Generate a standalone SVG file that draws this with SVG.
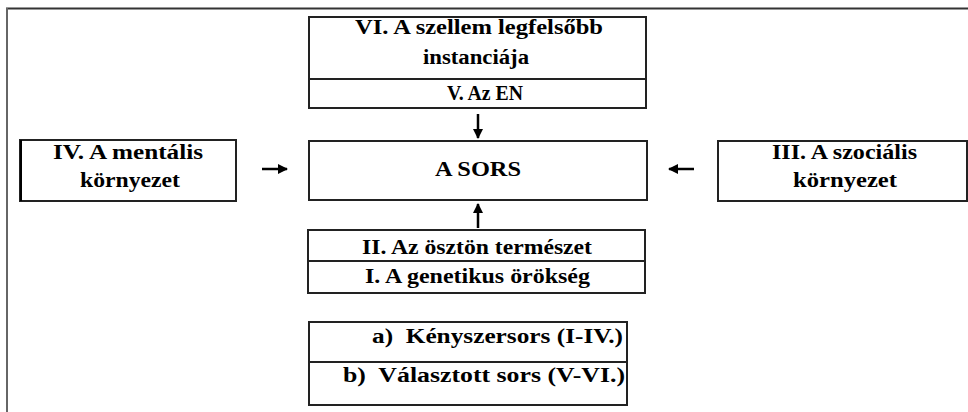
<svg xmlns="http://www.w3.org/2000/svg" width="968" height="412" viewBox="0 0 968 412">
<style>
.box{fill:#fff;stroke:#222;stroke-width:2}
.div{stroke:#222;stroke-width:2}
.t{font-family:"Liberation Serif","Times New Roman",serif;font-weight:bold;font-size:20px;fill:#000}
.c{stroke:#000;stroke-width:2.5;fill:none}
</style>
<defs>
<marker id="ah" viewBox="0 0 10 10" refX="9" refY="5" markerWidth="4" markerHeight="4" orient="auto" markerUnits="strokeWidth">
<path d="M0,0 L10,5 L0,10 z" fill="#000"/>
</marker>
</defs>
<rect width="968" height="412" fill="#fff"/>
<g id="frame">
<line x1="6" y1="8.5" x2="968" y2="8.5" stroke="#333" stroke-width="2"/>
<line x1="7" y1="8" x2="7" y2="412" stroke="#666" stroke-width="2"/>
</g>
<g id="top">
<rect class="box" x="309" y="17" width="337" height="91"/>
<line class="div" x1="309" y1="79" x2="646" y2="79"/>
<text class="t" x="355" y="34" textLength="248" lengthAdjust="spacingAndGlyphs">VI. A szellem legfelsőbb</text>
<text class="t" x="423" y="64" textLength="106" lengthAdjust="spacingAndGlyphs">instanciája</text>
<text class="t" x="447" y="100" textLength="76" lengthAdjust="spacingAndGlyphs">V. Az EN</text>
</g>
<g id="sors">
<rect class="box" x="309" y="141" width="338" height="59"/>
<text class="t" x="435" y="176" textLength="86" lengthAdjust="spacingAndGlyphs">A SORS</text>
</g>
<g id="mental">
<rect class="box" x="20" y="140" width="216" height="61"/>
<line x1="21" y1="140" x2="21" y2="201" stroke="#000" stroke-width="2"/>
<text class="t" x="53" y="159" textLength="150" lengthAdjust="spacingAndGlyphs">IV. A mentális</text>
<text class="t" x="80" y="187" textLength="100" lengthAdjust="spacingAndGlyphs">környezet</text>
</g>
<g id="social">
<rect class="box" x="718" y="141" width="249" height="60"/>
<text class="t" x="772" y="159" textLength="145" lengthAdjust="spacingAndGlyphs">III. A szociális</text>
<text class="t" x="793" y="187" textLength="104" lengthAdjust="spacingAndGlyphs">környezet</text>
</g>
<g id="bottom">
<rect class="box" x="308" y="230" width="337" height="63"/>
<line class="div" x1="308" y1="261" x2="645" y2="261"/>
<text class="t" x="362" y="254" textLength="230" lengthAdjust="spacingAndGlyphs">II. Az ösztön természet</text>
<text class="t" x="365" y="283" textLength="225" lengthAdjust="spacingAndGlyphs">I. A genetikus örökség</text>
</g>
<g id="legend">
<rect class="box" x="309" y="322" width="318" height="83"/>
<line class="div" x1="309" y1="362" x2="627" y2="362"/>
<text class="t" x="372" y="343" textLength="251" lengthAdjust="spacingAndGlyphs" xml:space="preserve">a)  Kényszersors (I-IV.)</text>
<text class="t" x="343" y="382" textLength="282" lengthAdjust="spacingAndGlyphs" xml:space="preserve">b)  Választott sors (V-VI.)</text>
</g>
<g id="connectors">
<line class="c" x1="478" y1="114" x2="478" y2="138" marker-end="url(#ah)"/>
<line class="c" x1="478" y1="228" x2="478" y2="204" marker-end="url(#ah)"/>
<line class="c" x1="262" y1="169" x2="287" y2="169" marker-end="url(#ah)"/>
<line class="c" x1="694" y1="169" x2="669" y2="169" marker-end="url(#ah)"/>
</g>
</svg>
